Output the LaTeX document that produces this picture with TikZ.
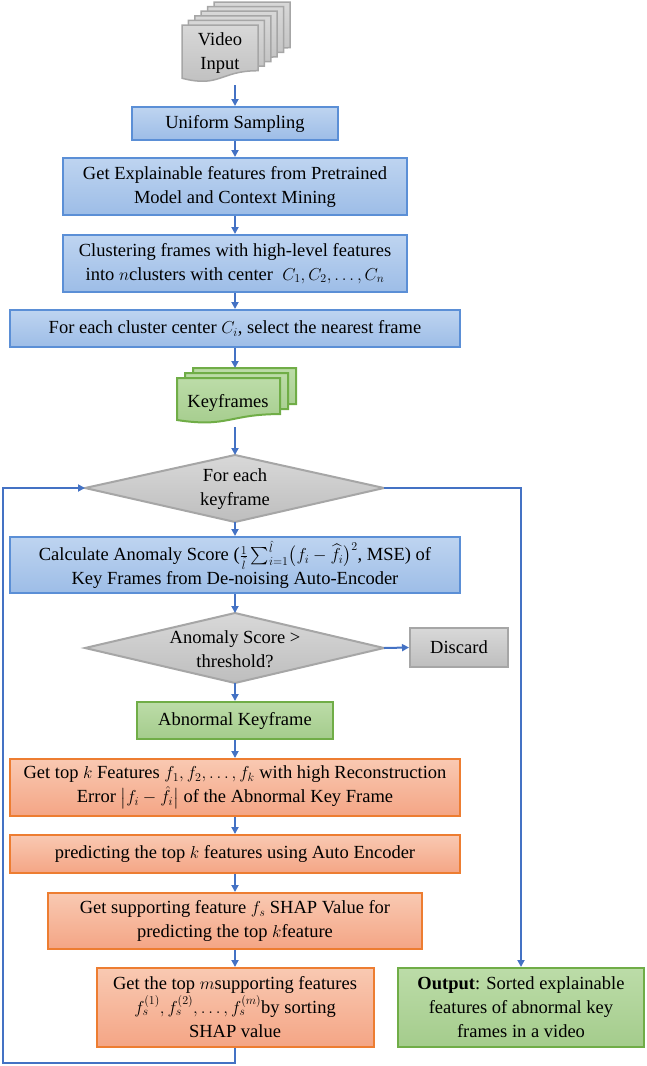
\documentclass[tikz,border=0pt]{standalone}
\usepackage{amsmath}
\usepackage{fontspec}
\setmainfont{Liberation Serif}
\usetikzlibrary{arrows.meta}
\definecolor{lnblue}{HTML}{4472C4}
\definecolor{bbd}{HTML}{5B8FD6}
\definecolor{btop}{HTML}{BED4F0}
\definecolor{bbot}{HTML}{9DBDE7}
\definecolor{gbd}{HTML}{A6A6A6}
\definecolor{gtop}{HTML}{D8D8D8}
\definecolor{gbot}{HTML}{BEBEBE}
\definecolor{grbd}{HTML}{70AD47}
\definecolor{grtop}{HTML}{BCDCA8}
\definecolor{grbot}{HTML}{A4CC8C}
\definecolor{obd}{HTML}{ED7D31}
\definecolor{otop}{HTML}{F9C9B2}
\definecolor{obot}{HTML}{F4A585}
\newcommand{\fsz}{\fontsize{18.5}{24}\selectfont}
\newcommand{\docshape}[5]{\path[#1] (#2,#3) -- ({#2+#4},#3) -- ({#2+#4},{#3+0.802*#5}) .. controls ({#2+0.5*#4},{#3+0.802*#5}) and ({#2+0.5*#4},{#3+1.107*#5}) .. (#2,{#3+0.934*#5}) -- cycle;}
\tikzset{
  boxbase/.style={draw, line width=2pt, rectangle, align=center, inner sep=0pt, font=\fsz},
  bluebox/.style={boxbase, draw=bbd, top color=btop, bottom color=bbot},
  graybox/.style={boxbase, draw=gbd, top color=gtop, bottom color=gbot},
  greenbox/.style={boxbase, draw=grbd, top color=grtop, bottom color=grbot},
  orangebox/.style={boxbase, draw=obd, top color=otop, bottom color=obot},
  graydoc/.style={draw=gbd, line width=1.5pt, top color=gtop, bottom color=gbot},
  greendoc/.style={draw=grbd, line width=2pt, top color=grtop, bottom color=grbot},
  graydia/.style={draw=gbd, line width=2pt, top color=gtop, bottom color=gbot},
  txt/.style={align=center, inner sep=0pt, font=\fsz},
  conn/.style={draw=lnblue, line width=2pt, -{Triangle[length=7pt,width=7pt]}},
}
\begin{document}
\begin{tikzpicture}[x=1pt,y=-1pt]
\useasboundingbox (0,0) rectangle (646,1066);

% Video input stack
\foreach \i in {5,4,3,2,1}{\docshape{graydoc}{182+6.4*\i}{25-4.6*\i}{76}{57}}
\docshape{graydoc}{182}{25}{76}{57}
\node[txt] (vid) at (220,53) {Video\\Input};
\coordinate (vidb) at (235,85);

\node[bluebox, minimum width=206pt, minimum height=33pt] (us) at (235,123.5) {Uniform Sampling};
\node[bluebox, minimum width=344pt, minimum height=57pt] (ge) at (235,186.5) {Get Explainable features from Pretrained\\Model and Context Mining};
\node[bluebox, minimum width=344pt, minimum height=57pt] (cl) at (235,263.5) {Clustering frames with high-level features\\into $n$clusters with center~ $C_1,C_2,\ldots,C_n$};
\node[bluebox, minimum width=450pt, minimum height=37pt] (fc) at (235,328.5) {For each cluster center $C_i$, select the nearest frame};

% Keyframes stack
\docshape{greendoc}{193}{368}{103}{45}
\docshape{greendoc}{185}{373}{103}{45}
\docshape{greendoc}{177}{378}{103}{45}
\node[txt] (kf) at (228,403) {Keyframes};
\coordinate (kft) at (235,368);
\coordinate (kfb) at (235,427);

% Diamond 1
\coordinate (d1n) at (235,455);
\coordinate (d1s) at (235,522);
\coordinate (d1w) at (85,488);
\coordinate (d1e) at (384,488);
\path[graydia] (d1n) -- (d1e) -- (d1s) -- (d1w) -- cycle;
\node[txt] (d1) at (235,489) {For each\\keyframe};

\node[bluebox, minimum width=450pt, minimum height=56pt] (calc) at (235,565) {Calculate Anomaly Score ($\frac{1}{\hat{l}}\sum_{i=1}^{\hat{l}}\bigl(f_i-\widehat{f_i}\bigr)^2$, MSE) of\\Key Frames from De-noising Auto-Encoder};

% Diamond 2
\coordinate (d2n) at (235,613);
\coordinate (d2s) at (235,683);
\coordinate (d2w) at (85,648);
\coordinate (d2e) at (384,648);
\path[graydia] (d2n) -- (d2e) -- (d2s) -- (d2w) -- cycle;
\node[txt] (d2) at (235,649) {Anomaly Score >\\threshold?};

\node[graybox, minimum width=98pt, minimum height=39pt] (disc) at (459,647.5) {Discard};
\node[greenbox, minimum width=196pt, minimum height=37pt] (ab) at (235,720.5) {Abnormal Keyframe};
\node[orangebox, minimum width=450pt, minimum height=57pt] (gt) at (235,787.5) {Get top $k$ Features $f_1,f_2,\ldots,f_k$ with high Reconstruction\\Error $\bigl|f_i-\hat{f}_i\bigr|$ of the Abnormal Key Frame};
\node[orangebox, minimum width=450pt, minimum height=38pt] (pr) at (235,854) {predicting the top $k$ features using Auto Encoder};
\node[orangebox, minimum width=374pt, minimum height=56pt] (gs) at (235,921) {Get supporting feature $f_s$ SHAP Value for\\predicting the top $k$feature};
\node[orangebox, minimum width=277pt, minimum height=79pt] (gm) at (235,1007.5) {Get the top $m$supporting features\\$f_s^{(1)},f_s^{(2)},\ldots,f_s^{(m)}$by sorting\\SHAP value};
\node[greenbox, minimum width=246pt, minimum height=79pt] (out) at (521,1007.5) {\textbf{Output}: Sorted explainable\\features of abnormal key\\frames in a video};

% connectors
\draw[conn] (vidb) -- (us.north);
\draw[conn] (us.south) -- (ge.north);
\draw[conn] (ge.south) -- (cl.north);
\draw[conn] (cl.south) -- (fc.north);
\draw[conn] (fc.south) -- (kft);
\draw[conn] (kfb) -- (d1n);
\draw[conn] (d1s) -- (calc.north);
\draw[conn] (calc.south) -- (d2n);
\draw[conn] (d2e) -- (disc.west);
\draw[conn] (d2s) -- (ab.north);
\draw[conn] (ab.south) -- (gt.north);
\draw[conn] (gt.south) -- (pr.north);
\draw[conn] (pr.south) -- (gs.north);
\draw[conn] (gs.south) -- (gm.north);
\coordinate (lb) at (3,1063);
\draw[conn] (gm.south) |- (lb) -- (lb |- d1w) -- (d1w);
\draw[conn] (d1e) -| (out.north);
\end{tikzpicture}
\end{document}
